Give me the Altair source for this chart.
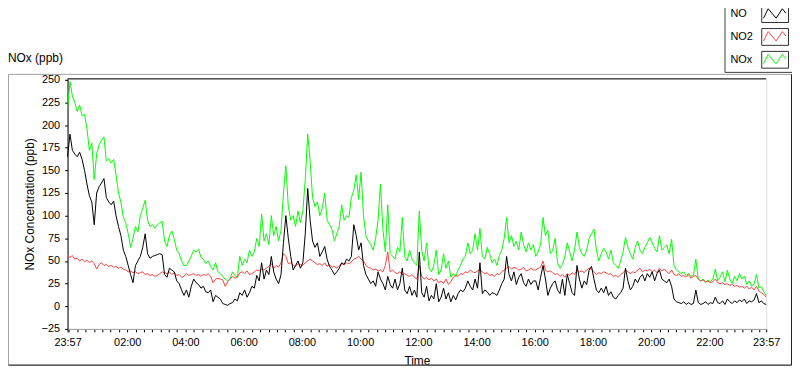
import altair as alt
import pandas as pd

# minutes after 23:57 (one reading every 5 minutes, 24 h)
minutes = list(range(0, 1441, 5))

nox_ppb = [217,248,232,225,215,222,210,212,196,172,180,140,168,178,183,187,160,163,158,162,145,125,115,98,92,80,65,75,88,82,100,108,117,95,88,90,86,90,92,94,72,66,78,83,74,62,58,50,45,
           45,50,55,62,60,63,54,52,47,50,44,40,48,38,36,33,30,28,30,38,34,32,55,45,52,48,62,55,60,75,66,102,72,80,68,100,78,88,72,84,125,155,110,95,100,88,105,92,
           105,140,190,160,120,110,115,100,108,125,95,90,85,72,80,88,112,95,100,98,120,128,145,118,148,100,78,72,68,62,75,95,135,85,60,112,58,55,52,65,60,98,55,50,62,52,48,45,
           105,62,50,70,42,38,45,62,35,40,58,42,50,32,36,33,40,45,52,55,70,58,62,80,62,86,55,52,65,58,48,52,45,56,62,75,98,70,78,66,72,62,82,68,60,70,62,68,
           55,60,68,98,78,84,58,62,75,48,42,46,55,70,60,50,62,82,65,58,55,62,75,80,85,62,50,58,64,60,52,62,48,45,42,50,60,76,65,58,52,65,72,62,58,65,70,76,
           70,64,60,78,62,65,68,58,74,45,40,38,36,38,34,36,33,34,52,30,28,30,26,29,27,30,41,28,32,38,27,40,30,25,33,28,36,30,33,24,28,22,25,35,20,22,16,12]

no_ppb = [165,190,172,168,165,170,162,150,135,122,115,90,125,132,136,141,120,115,112,116,100,88,78,62,55,45,35,26,45,50,55,65,80,58,53,55,56,57,58,57,35,32,42,40,38,28,25,18,12,
          18,10,22,30,26,24,20,22,16,15,18,5,12,10,8,3,2,1,3,4,8,6,15,12,18,10,15,22,20,34,28,48,30,40,35,55,38,30,25,35,70,100,75,55,40,45,50,42,
          48,80,130,95,72,65,70,55,60,66,52,44,40,35,38,42,48,46,52,50,55,90,78,62,70,45,35,30,25,28,22,38,30,25,18,33,24,20,30,18,25,42,18,14,22,12,18,10,
          60,15,10,22,6,12,8,25,5,10,20,8,15,5,12,7,14,18,16,20,28,22,18,30,20,48,14,18,16,12,15,14,12,18,25,30,55,35,28,38,24,32,36,26,22,30,24,28,
          28,18,32,45,30,12,20,25,28,18,14,30,12,35,25,15,12,45,30,20,28,24,40,44,30,18,15,20,15,22,12,16,10,8,12,15,20,42,28,18,22,30,26,32,35,28,36,32,
          38,28,36,40,30,28,26,30,22,8,5,4,3,5,2,4,2,3,18,4,2,3,5,2,4,3,10,4,3,6,2,8,5,3,6,4,7,5,8,3,6,5,7,14,4,6,3,2]

no2_ppb = [55,54,56,52,53,50,52,49,51,48,50,47,41,46,48,45,46,44,45,43,44,42,43,41,40,38,39,37,38,36,37,38,35,36,34,35,33,34,36,38,37,36,38,35,37,34,35,32,33,
           36,34,35,36,34,35,33,35,34,36,33,26,30,31,30,29,22,27,30,33,31,32,37,38,36,39,35,36,38,40,39,41,40,42,44,47,42,45,43,48,58,55,47,48,45,44,47,46,
           45,48,50,52,50,48,46,47,45,48,44,46,43,44,42,45,47,46,48,47,49,52,53,55,52,50,45,43,42,40,41,39,40,38,45,60,38,40,37,36,38,35,36,34,33,35,32,30,
           45,33,30,32,29,31,28,30,26,28,25,30,24,27,32,34,33,36,35,38,37,40,38,37,39,40,38,36,37,34,35,33,36,35,38,40,42,44,41,43,42,40,41,43,39,40,42,40,
           40,42,43,50,40,38,39,37,35,36,33,35,32,36,34,37,35,40,38,39,37,40,42,41,38,35,37,36,38,37,35,36,33,34,32,35,37,40,38,36,38,37,40,42,38,40,39,41,
           38,40,37,42,39,41,38,36,40,35,34,36,33,34,32,35,31,33,34,30,28,29,27,28,26,27,30,26,25,26,24,25,23,24,22,23,21,22,20,22,19,21,18,22,17,15,13,10]

series_names = ["NO", "NO2", "NOx"]
series_colors = ["#000000", "#ff4040", "#00ff00"]

y_ticks = list(range(-25, 251, 25))
major_minutes = [0, 123, 243, 363, 483, 603, 723, 843, 963, 1083, 1203, 1323, 1440]
major_labels = ["23:57", "02:00", "04:00", "06:00", "08:00", "10:00", "12:00",
                "14:00", "16:00", "18:00", "20:00", "22:00", "23:57"]

# minor ticks: 7 divisions per 2-hour interval
step = 120 / 7
minor_minutes = [round(123 - step * k, 2) for k in range(1, 8) if 123 - step * k >= 0]
for m in major_minutes[1:-1]:
    for k in range(1, 7):
        v = m + step * k
        if v < 1440:
            minor_minutes.append(round(v, 2))
x_tick_values = sorted(major_minutes + minor_minutes)

FONT = "Liberation Sans"

rows = []
for name, vals in zip(series_names, [no_ppb, no2_ppb, nox_ppb]):
    for t, v in zip(minutes, vals):
        rows.append({"minute": t, "ppb": v, "series": name})
df = pd.DataFrame(rows)

label_expr = ("indexof(%s, datum.value) >= 0 ? %s[indexof(%s, datum.value)] : ''"
              % (major_minutes, major_labels, major_minutes))

x_enc = alt.X("minute:Q",
              scale=alt.Scale(domain=[0, 1440], nice=False, zero=False),
              axis=alt.Axis(values=x_tick_values, labelExpr=label_expr, tickSize=3,
                            tickColor="#000000", domainColor="#a0a0a0", grid=False,
                            labelOverlap=False, labelFlush=False, labelPadding=5,
                            labelFont=FONT, labelFontSize=11, labelColor="#000000",
                            title="Time", titleFont=FONT, titleFontSize=12,
                            titleFontWeight="normal", titleColor="#000000", titlePadding=8))
y_enc = alt.Y("ppb:Q",
              scale=alt.Scale(domain=[-25, 251], nice=False, zero=False),
              axis=alt.Axis(values=y_ticks, tickSize=3, tickColor="#000000",
                            domainColor="#000000", grid=False, labelPadding=5,
                            labelFont=FONT, labelFontSize=11, labelColor="#000000",
                            title="NOx Concentration (ppb)", titleFont=FONT,
                            titleFontSize=12, titleFontWeight="normal",
                            titleColor="#000000", titlePadding=5))

zigzag = "M-1.5,-0.94M1.5,0.94M-1.3,0.45L-0.78,-0.6L0.11,0.45L0.81,-0.6L1.2,-0.1"
box = "M-1.5,-0.94H1.5V0.94H-1.5Z"

legend_common = dict(orient="none", legendX=703.5, legendY=-74.7, title=None,
                     symbolSize=324, symbolStrokeWidth=1,
                     labelOffset=alt.ExprRef(expr="-54.5"),
                     labelFont=FONT, labelFontSize=11, rowPadding=2, padding=0)

color_enc = alt.Color("series:N",
                      scale=alt.Scale(domain=series_names, range=series_colors),
                      legend=alt.Legend(symbolType=zigzag, labelOpacity=0,
                                        symbolFillColor="transparent", **legend_common))

one = pd.DataFrame({"a": [0]})

frame = alt.Chart(one).mark_rect(fill="transparent", stroke="#a0a0a0", strokeWidth=1).encode(
    x=alt.value(-59.5), x2=alt.value(729.5), y=alt.value(-4.5), y2=alt.value(288.5))
frame_r = alt.Chart(one).mark_rule(color="#202020", strokeWidth=1).encode(
    x=alt.value(729.5), y=alt.value(-4.5), y2=alt.value(288.5))
frame_b = alt.Chart(one).mark_rule(color="#202020", strokeWidth=1).encode(
    x=alt.value(-59.5), x2=alt.value(729.5), y=alt.value(288.5))
panel = alt.Chart(one).mark_rect(fill="#ffffff", stroke="#404040", strokeWidth=1).encode(
    x=alt.value(662.5), x2=alt.value(740), y=alt.value(-80), y2=alt.value(-6.5))
top_border = alt.Chart(one).mark_rule(color="#000000", strokeWidth=1).encode(
    x=alt.value(0), x2=alt.value(704), y=alt.value(0))
title_text = alt.Chart(one).mark_text(text="NOx (ppb)", font=FONT, fontSize=12,
                                      align="left", baseline="middle", color="#000000").encode(
    x=alt.value(-60), y=alt.value(-21))

base = alt.Chart(df).mark_line(strokeWidth=1, interpolate="linear").encode(
    x=x_enc, y=y_enc, color=color_enc)
line_nox = base.transform_filter(alt.datum.series == "NOx")
line_no2 = base.transform_filter(alt.datum.series == "NO2")
line_no = base.transform_filter(alt.datum.series == "NO")

leg_df = pd.DataFrame({"series_b": series_names})
box_legend = alt.Chart(leg_df).mark_point(filled=False, color="#303030", size=324,
                                          strokeWidth=1, opacity=1).encode(
    shape=alt.Shape("series_b:N",
                    scale=alt.Scale(range=[box, box, box]),
                    legend=alt.Legend(labelColor="#000000", **legend_common)),
    x=alt.value(-2000), y=alt.value(-2000))

chart = alt.layer(frame, frame_r, frame_b, panel, title_text, line_nox, line_no2, line_no,
                  top_border, box_legend).properties(
    width=704, height=252,
    padding={"left": 60, "top": 70, "right": 26, "bottom": 37},
    autosize=alt.AutoSizeParams(type="none"),
).configure_view(stroke="#a0a0a0", strokeWidth=1).configure(background="#ffffff")

chart.save("out.html", embed_options={"renderer": "svg", "actions": False})
